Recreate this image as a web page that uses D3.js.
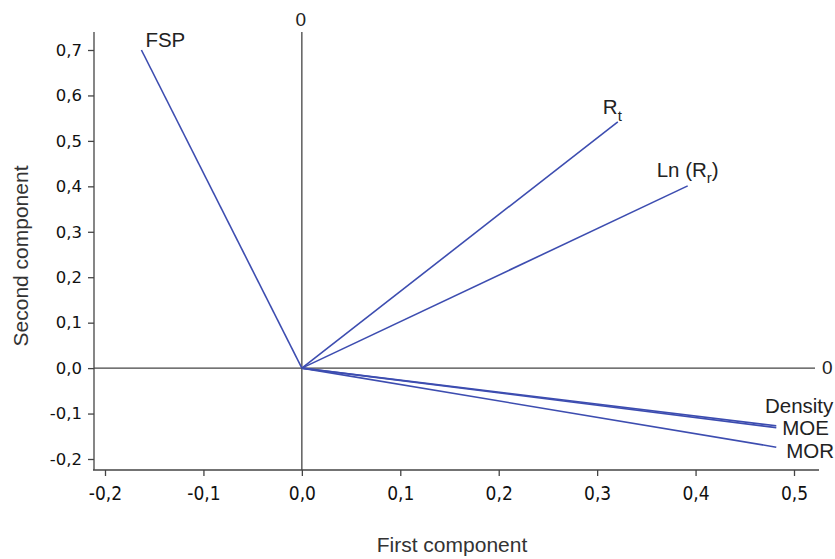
<!DOCTYPE html>
<html><head><meta charset="utf-8">
<script src="https://cdn.jsdelivr.net/npm/d3@7"></script>
<style>body{margin:0;background:#fff}</style>
</head><body>
<svg id="c" width="835" height="559"></svg>
<script>
const variables = ["FSP", "Rt", "LnRr", "Density", "MOE", "MOR"];
const pc1 = [-0.163, 0.321, 0.392, 0.482, 0.482, 0.482];
const pc2 = [0.700, 0.542, 0.401, -0.127, -0.131, -0.174];
const xTicks = [-0.2, -0.1, 0, 0.1, 0.2, 0.3, 0.4, 0.5];
const yTicks = [-0.2, -0.1, 0, 0.1, 0.2, 0.3, 0.4, 0.5, 0.6, 0.7];

const svg = d3.select("#c");
const x = d3.scaleLinear().domain([-0.2, 0.5]).range([105, 794]);
const y = d3.scaleLinear().domain([-0.2, 0.7]).range([459, 50]);
const fmt = d => d3.format(".1f")(d).replace(".", ",").replace("−", "-");
const axisColor = "#444";

// left axis
const ya = svg.append("g").attr("transform", "translate(94,0)")
  .call(d3.axisLeft(y).tickValues(yTicks).tickFormat(fmt).tickSize(6).tickPadding(6));
ya.select(".domain").attr("d", "M0,32V470");
ya.selectAll("text").style("font-family", "'DejaVu Sans',sans-serif").style("font-size", "16.5px");
// bottom axis
const xa = svg.append("g").attr("transform", "translate(0,470)")
  .call(d3.axisBottom(x).tickValues(xTicks).tickFormat(fmt).tickSize(6).tickPadding(11));
xa.select(".domain").attr("d", "M93,0H819");
xa.selectAll("text").style("font-family", "'DejaVu Sans Condensed','DejaVu Sans',sans-serif").style("font-size", "19px");
[ya, xa].forEach(a => {
  a.selectAll(".domain, line").attr("stroke", axisColor).attr("stroke-width", 1.3);
  a.selectAll("text").attr("fill", "#111");
});

// zero lines
svg.append("line").attr("x1", x(0)).attr("x2", x(0)).attr("y1", 32).attr("y2", 470)
  .attr("stroke", axisColor).attr("stroke-width", 1.3);
svg.append("line").attr("x1", 94).attr("x2", 815).attr("y1", y(0)).attr("y2", y(0))
  .attr("stroke", axisColor).attr("stroke-width", 1.3);
const lf = "'Liberation Sans',Arial,sans-serif";
svg.append("text").attr("x", x(0) - 1).attr("y", 26).attr("text-anchor", "middle")
  .style("font-family", lf).style("font-size", "19px").attr("fill", "#222").text("0");
svg.append("text").attr("x", 822).attr("y", 374)
  .style("font-family", lf).style("font-size", "19px").attr("fill", "#222").text("0");

// vectors
const data = variables.map((v, i) => ({v, a: pc1[i], b: pc2[i]}));
svg.append("g").selectAll("line").data(data).join("line")
  .attr("x1", x(0)).attr("y1", y(0))
  .attr("x2", d => x(d.a)).attr("y2", d => y(d.b))
  .attr("stroke", "#3d4db0").attr("stroke-width", 1.6);

// labels
const lab = (i, dx, dy, anchor) => svg.append("text")
  .attr("x", x(pc1[i]) + dx).attr("y", y(pc2[i]) + dy)
  .attr("text-anchor", anchor || "start")
  .style("font-family", lf).style("font-size", "20.5px").attr("fill", "#222");
lab(0, 4, -3).text("FSP");
const rt = lab(1, -15, -8);
rt.append("tspan").text("R");
rt.append("tspan").attr("dy", 7).style("font-size", "15px").text("t");
const ln = lab(2, -31, -9);
ln.append("tspan").text("Ln (R");
ln.append("tspan").attr("dy", 6).style("font-size", "15px").text("r");
ln.append("tspan").attr("dy", -6).text(")");
lab(3, 57, -13, "end").text("Density");
lab(4, 6, 7).text("MOE");
lab(5, 10, 11).text("MOR");

// axis titles
svg.append("text").attr("transform", "translate(28,256) rotate(-90)").attr("text-anchor", "middle")
  .style("font-family", lf).style("font-size", "21px").attr("fill", "#333").text("Second component");
svg.append("text").attr("x", 452).attr("y", 552).attr("text-anchor", "middle")
  .style("font-family", lf).style("font-size", "21px").attr("fill", "#333").text("First component");
</script>
</body></html>
